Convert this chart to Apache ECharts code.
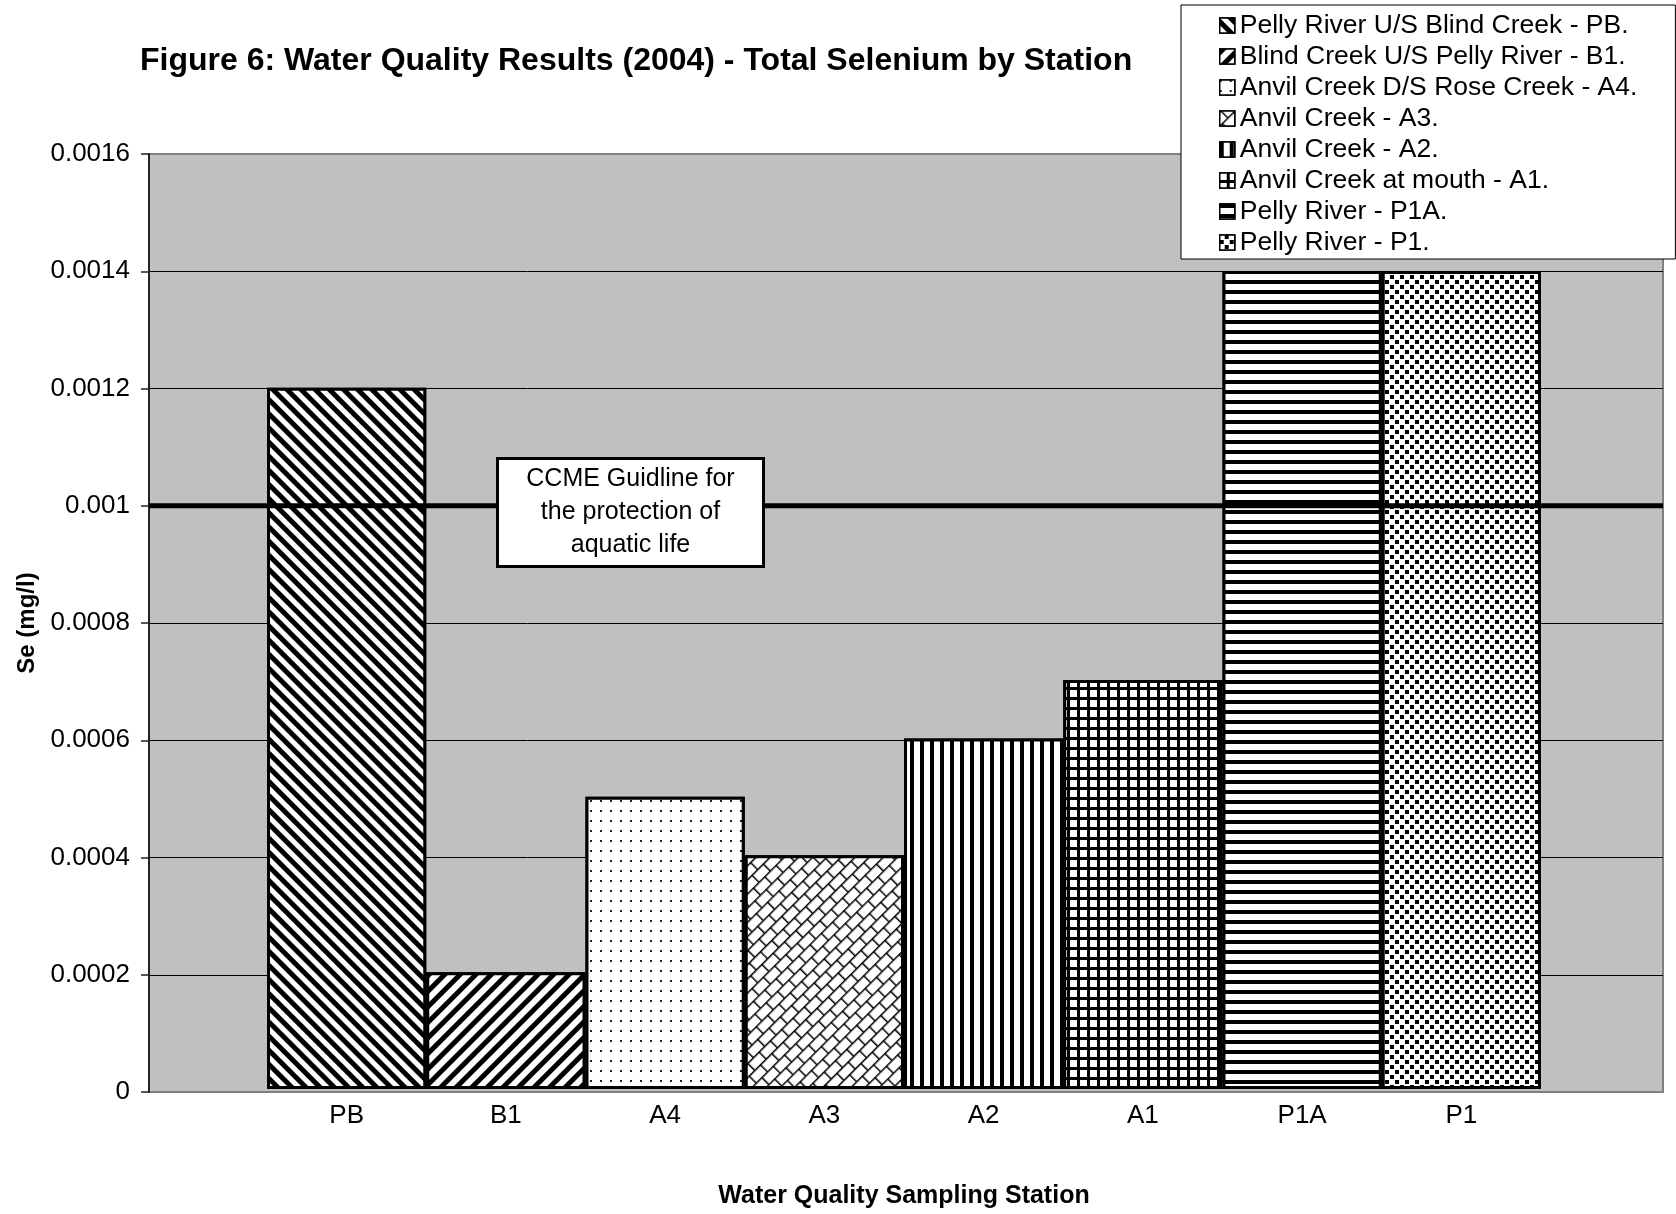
<!DOCTYPE html>
<html>
<head>
<meta charset="utf-8">
<script src="https://cdn.jsdelivr.net/npm/echarts@6/dist/echarts.min.js"></script>
<style>
html,body{margin:0;padding:0;background:#fff;}
#chart{width:1676px;height:1214px;}
</style>
</head>
<body>
<div id="chart"></div>
<script>
// ---- data ----
const stations = ['PB', 'B1', 'A4', 'A3', 'A2', 'A1', 'P1A', 'P1'];
const seleniumValues = [0.0012, 0.0002, 0.0005, 0.0004, 0.0006, 0.0007, 0.0014, 0.0014];
const seriesNames = [
  'Pelly River U/S Blind Creek - PB.',
  'Blind Creek U/S Pelly River - B1.',
  'Anvil Creek D/S Rose Creek - A4.',
  'Anvil Creek - A3.',
  'Anvil Creek - A2.',
  'Anvil Creek at mouth - A1.',
  'Pelly River - P1A.',
  'Pelly River - P1.'
];
const yTickLabels = ['0', '0.0002', '0.0004', '0.0006', '0.0008', '0.001', '0.0012', '0.0014', '0.0016'];
const guidelineValue = 0.001;
const guidelineText = ['CCME Guidline for', 'the protection of', 'aquatic life'];

// ---- styles ----
const FONT = "'Liberation Sans', Arial, sans-serif";
const base = {color: '#000', backgroundColor: '#fff', symbol: 'rect', symbolSize: 1};
const decals = [
  Object.assign({}, base, {dashArrayX: [1, 0], dashArrayY: [5, 5], rotation: Math.PI / 4}),
  Object.assign({}, base, {dashArrayX: [1, 0], dashArrayY: [5, 6], rotation: -Math.PI / 4}),
  Object.assign({}, base, {color: '#222', dashArrayX: [2, 8], dashArrayY: [2, 8]}),
  Object.assign({}, base, {symbol: 'path://M0 0H16V1.5H0Z M0 0H1.5V10H0Z M0 10H16V11.5H0Z M8 10H9.5V20H8Z',
    dashArrayX: [16, 0], dashArrayY: [20, 0], rotation: -Math.PI / 4}),
  Object.assign({}, base, {dashArrayX: [4, 6], dashArrayY: [1, 0]}),
  Object.assign({}, base, {color: '#fff', backgroundColor: '#000', dashArrayX: [7, 3], dashArrayY: [7, 3]}),
  Object.assign({}, base, {dashArrayX: [1, 0], dashArrayY: [4, 6]}),
  Object.assign({}, base, {dashArrayX: [[4, 6], [0, 5, 4, 1]], dashArrayY: [4, 1]})
];

const gridTop = 154, gridBottom = 1214 - 1092;

const barSeries = seriesNames.map((name, i) => ({
  name: name,
  type: 'bar',
  stack: 'all',
  xAxisIndex: 0,
  yAxisIndex: 0,
  barCategoryGap: '0%',
  z: 2,
  itemStyle: {color: '#fff', borderColor: '#000', borderWidth: 3, decal: decals[i]},
  emphasis: {disabled: true},
  data: stations.map((s, j) => (j === i ? seleniumValues[j] : '-'))
}));

const gridLineColors = yTickLabels.map((t, i) => (i === 0 || i === yTickLabels.length - 1) ? '#808080' : '#000');

const option = {
  animation: false,
  backgroundColor: '#fff',
  textStyle: {fontFamily: FONT},
  title: {
    text: 'Figure 6: Water Quality Results (2004) - Total Selenium by Station',
    left: 140, top: 45, padding: 0,
    textStyle: {fontFamily: FONT, fontSize: 32, fontWeight: 'bold', color: '#000'}
  },
  legend: {
    orient: 'vertical',
    left: 1181, top: 5,
    padding: [7, 38, 3, 38],
    itemGap: 4,
    itemWidth: 15, itemHeight: 15,
    icon: 'rect',
    backgroundColor: '#fff',
    borderColor: '#000', borderWidth: 1,
    selectedMode: false,
    itemStyle: {borderWidth: 1.5, borderColor: '#000'},
    textStyle: {fontFamily: FONT, fontSize: 26.5, color: '#000', lineHeight: 26, padding: [0, 0, 0, 0]},
    data: seriesNames
  },
  grid: [
    {left: 267, right: 1676 - 1541, top: gridTop, bottom: gridBottom, containLabel: false},
    {left: 149, right: 1676 - 1663, top: gridTop, bottom: gridBottom, show: true,
     backgroundColor: '#c0c0c0', borderColor: '#808080', borderWidth: 2, z: 0}
  ],
  xAxis: [
    {type: 'category', gridIndex: 0, data: stations,
     name: 'Water Quality Sampling Station', nameLocation: 'middle', nameGap: 95,
     nameTextStyle: {fontFamily: FONT, fontSize: 25, fontWeight: 'bold', color: '#000'},
     axisLine: {show: false}, axisTick: {show: false},
     axisLabel: {fontFamily: FONT, fontSize: 26, color: '#000', margin: 14}},
    {type: 'value', gridIndex: 1, min: 0, max: 1, show: false}
  ],
  yAxis: [
    {type: 'value', gridIndex: 0, min: 0, max: 0.0016, interval: 0.0002, show: false},
    {type: 'value', gridIndex: 1, min: 0, max: 0.0016, interval: 0.0002,
     name: 'Se (mg/l)', nameLocation: 'middle', nameGap: 103,
     nameTextStyle: {fontFamily: FONT, fontSize: 24, fontWeight: 'bold', color: '#000'},
     axisLine: {show: true, lineStyle: {color: '#222', width: 2}},
     axisTick: {show: true, length: 8, lineStyle: {color: '#222', width: 1.5}},
     axisLabel: {fontFamily: FONT, fontSize: 26, color: '#000', margin: 19,
       formatter: (v) => yTickLabels[Math.round(v / 0.0002)]},
     splitLine: {show: true, lineStyle: {color: gridLineColors, width: 1}}}
  ],
  graphic: [
    {type: 'group', left: 496, top: 457, z: 100, children: [
      {type: 'rect', z: 100, shape: {x: 0, y: 0, width: 266, height: 108},
       style: {fill: '#fff', stroke: '#000', lineWidth: 3}},
      {type: 'text', z: 101, x: 133, y: 54,
       style: {text: guidelineText.join('\n'), font: "25px 'Liberation Sans', Arial", fill: '#000',
               align: 'center', verticalAlign: 'middle', lineHeight: 33}}
    ]}
  ],
  series: barSeries.concat([{
    name: 'CCME guideline',
    type: 'line',
    xAxisIndex: 1, yAxisIndex: 1,
    symbol: 'none',
    z: 10,
    silent: true,
    lineStyle: {color: '#000', width: 5},
    data: [[0, guidelineValue], [1, guidelineValue]]
  }])
};

const chart = echarts.init(document.getElementById('chart'), null, {renderer: 'canvas'});
chart.setOption(option);
</script>
</body>
</html>
